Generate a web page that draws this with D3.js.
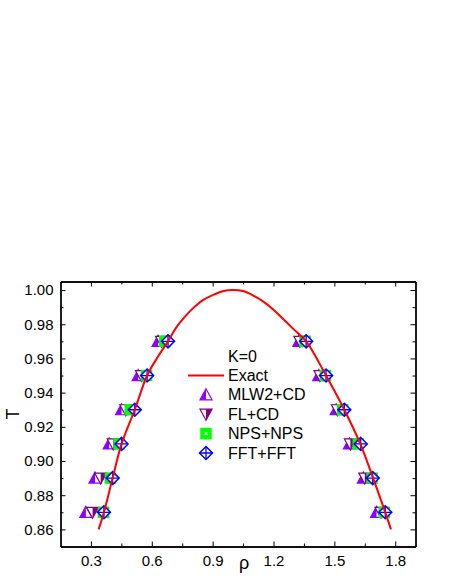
<!DOCTYPE html>
<html>
<head>
<meta charset="utf-8">
<script src="https://cdn.jsdelivr.net/npm/d3@7"></script>
<style>
  body { margin: 0; background: #fff; }
  text { font-family: Arial, "Liberation Sans", sans-serif; }
</style>
</head>
<body>
<div id="chart"></div>
<script>
// temperatures where the simulated points sit
var temps = [0.87, 0.89, 0.91, 0.93, 0.95, 0.97];

// densities: left and right branch
var mlwLeft  = [0.275, 0.320, 0.390, 0.451, 0.533, 0.631];
var mlwRight = [1.708, 1.643, 1.574, 1.509, 1.423, 1.325];
var flLeft   = [0.308, 0.348, 0.410, 0.472, 0.549, 0.648];
var flRight  = [1.730, 1.650, 1.579, 1.515, 1.429, 1.330];
var npsLeft  = [0.362, 0.396, 0.439, 0.494, 0.574, 0.664];
var npsRight = [1.746, 1.686, 1.618, 1.541, 1.456, 1.356];
var fftLeft  = [0.364, 0.407, 0.451, 0.516, 0.577, 0.680];
var fftRight = [1.751, 1.689, 1.630, 1.549, 1.459, 1.361];

// exact coexistence curve
var exactRho = [0.338, 0.364, 0.407, 0.451, 0.516, 0.577, 0.630, 0.680, 0.720, 0.760, 0.800, 0.850, 0.900, 0.950, 1.000,
                1.050, 1.100, 1.150, 1.200, 1.250, 1.300, 1.361, 1.459, 1.549, 1.628, 1.691, 1.751, 1.779];
var exactT   = [0.860, 0.870, 0.890, 0.910, 0.930, 0.950, 0.961, 0.970, 0.978, 0.984, 0.989, 0.994, 0.997, 0.9993, 1.000,
                0.9994, 0.9968, 0.9932, 0.9885, 0.9828, 0.977, 0.970, 0.950, 0.930, 0.910, 0.890, 0.870, 0.860];

var xTicks = [0.3, 0.6, 0.9, 1.2, 1.5, 1.8];
var xMinor = [0.45, 0.75, 1.05, 1.35, 1.65];
var yTicks = [0.86, 0.88, 0.90, 0.92, 0.94, 0.96, 0.98, 1.00];
var yMinor = [0.87, 0.89, 0.91, 0.93, 0.95, 0.97, 0.99];

var legendNames = ["Exact", "MLW2+CD", "FL+CD", "NPS+NPS", "FFT+FFT"];

var W = 450, H = 582;
var box = {left: 60.5, right: 415.5, top: 281.5, bottom: 546.5};

var svg = d3.select("#chart").append("svg")
    .attr("width", W)
    .attr("height", H);

var x = d3.scaleLinear().domain([0.15, 1.9]).range([box.left, box.right]);
var y = d3.scaleLinear().domain([0.85, 1.005]).range([box.bottom, box.top]);

function pts(left, right) {
  var out = [];
  temps.forEach(function(t, i) {
    out.push({rho: left[i], T: t});
    out.push({rho: right[i], T: t});
  });
  return out;
}

// axes, ticks pointing inward
function drawAxis(axis, tx, ty, labels) {
  var g = svg.append("g")
      .attr("transform", "translate(" + tx + "," + ty + ")")
      .call(axis);
  g.select(".domain").attr("stroke", "#000").attr("stroke-width", 1.3);
  g.selectAll(".tick line").attr("stroke", "#000").attr("stroke-width", 1);
  g.selectAll("text").attr("font-size", 15).attr("fill", "#000")
      .style("font-family", "Arial, 'Liberation Sans', sans-serif");
  if (!labels) g.selectAll("text").remove();
  return g;
}

var xAxis = d3.axisBottom(x).tickValues(xTicks).tickSizeInner(-5).tickSizeOuter(0)
    .tickPadding(9).tickFormat(d3.format(".1f"));
var yAxis = d3.axisLeft(y).tickValues(yTicks).tickSizeInner(-5).tickSizeOuter(0)
    .tickPadding(7).tickFormat(d3.format(".2f"));

drawAxis(xAxis, 0, box.bottom, true);
drawAxis(d3.axisBottom(x).tickValues(xMinor).tickSizeInner(-3).tickSizeOuter(0), 0, box.bottom, false);
drawAxis(d3.axisTop(x).tickValues(xTicks).tickSizeInner(-5).tickSizeOuter(0), 0, box.top, false);
drawAxis(d3.axisTop(x).tickValues(xMinor).tickSizeInner(-3).tickSizeOuter(0), 0, box.top, false);

drawAxis(yAxis, box.left, 0, true);
drawAxis(d3.axisLeft(y).tickValues(yMinor).tickSizeInner(-3).tickSizeOuter(0), box.left, 0, false);
drawAxis(d3.axisRight(y).tickValues(yTicks).tickSizeInner(-5).tickSizeOuter(0), box.right, 0, false);
drawAxis(d3.axisRight(y).tickValues(yMinor).tickSizeInner(-3).tickSizeOuter(0), box.right, 0, false);

// axis titles
svg.append("text")
    .attr("transform", "translate(19," + (box.top + box.bottom) / 2 + ") rotate(-90)")
    .attr("text-anchor", "middle")
    .attr("font-size", 18)
    .text("T");
svg.append("text")
    .attr("x", 244).attr("y", 569)
    .attr("text-anchor", "middle")
    .attr("font-size", 18)
    .text("ρ");

// marker shapes
function upTri(g) {
  g.append("path").attr("d", "M0,-6L6,5L-6,5Z")
      .attr("fill", "#fff").attr("stroke", "#8b00ff").attr("stroke-width", 1.2);
  g.append("path").attr("d", "M0,-6L0,5L-6,5Z").attr("fill", "#8b00ff");
}
function downTri(g) {
  g.append("path").attr("d", "M-6,-5L6,-5L0,6Z")
      .attr("fill", "#fff").attr("stroke", "#800080").attr("stroke-width", 1.2);
  g.append("path").attr("d", "M0,-5L6,-5L0,6Z").attr("fill", "#800080");
}
function square(g) {
  g.append("rect").attr("x", -3.5).attr("y", -3.5).attr("width", 7).attr("height", 7)
      .attr("fill", "#fff").attr("stroke", "#00ff00").attr("stroke-width", 4.5);
}
function diamond(g) {
  g.append("path").attr("d", "M0,-6.5L6.5,0L0,6.5L-6.5,0Z")
      .attr("fill", "#fff").attr("stroke", "#0000ff").attr("stroke-width", 1.5);
  g.append("path").attr("d", "M0,-6.5V6.5M-6.5,0H6.5")
      .attr("stroke", "#0000ff").attr("stroke-width", 1.3);
}

var series = [
  {data: pts(mlwLeft, mlwRight), shape: upTri},
  {data: pts(flLeft, flRight), shape: downTri},
  {data: pts(npsLeft, npsRight), shape: square},
  {data: pts(fftLeft, fftRight), shape: diamond}
];

series.forEach(function(s) {
  svg.append("g").selectAll("g")
      .data(s.data)
      .enter().append("g")
      .attr("transform", function(d) { return "translate(" + x(d.rho) + "," + y(d.T) + ")"; })
      .each(function() { s.shape(d3.select(this)); });
});

// exact curve on top
var exact = exactRho.map(function(r, i) { return {rho: r, T: exactT[i]}; });
svg.append("path")
    .datum(exact)
    .attr("fill", "none")
    .attr("stroke", "#ff0000")
    .attr("stroke-width", 2)
    .attr("d", d3.line()
      .curve(d3.curveCatmullRom)
      .x(function(d) { return x(d.rho); })
      .y(function(d) { return y(d.T); }));

// legend
var lx = 228, ly0 = 356, dy = 19.4;
svg.append("text").attr("x", lx).attr("y", ly0 + 5.5).attr("font-size", 16).text("K=0");
legendNames.forEach(function(name, i) {
  var cy = ly0 + dy * (i + 1);
  svg.append("text").attr("x", lx).attr("y", cy + 5.5).attr("font-size", 16).text(name);
  if (i == 0) {
    svg.append("line").attr("x1", 188).attr("x2", 224).attr("y1", cy).attr("y2", cy)
        .attr("stroke", "#ff0000").attr("stroke-width", 2);
  } else {
    var g = svg.append("g").attr("transform", "translate(206," + cy + ")");
    series[i - 1].shape(g);
  }
});
</script>
</body>
</html>
